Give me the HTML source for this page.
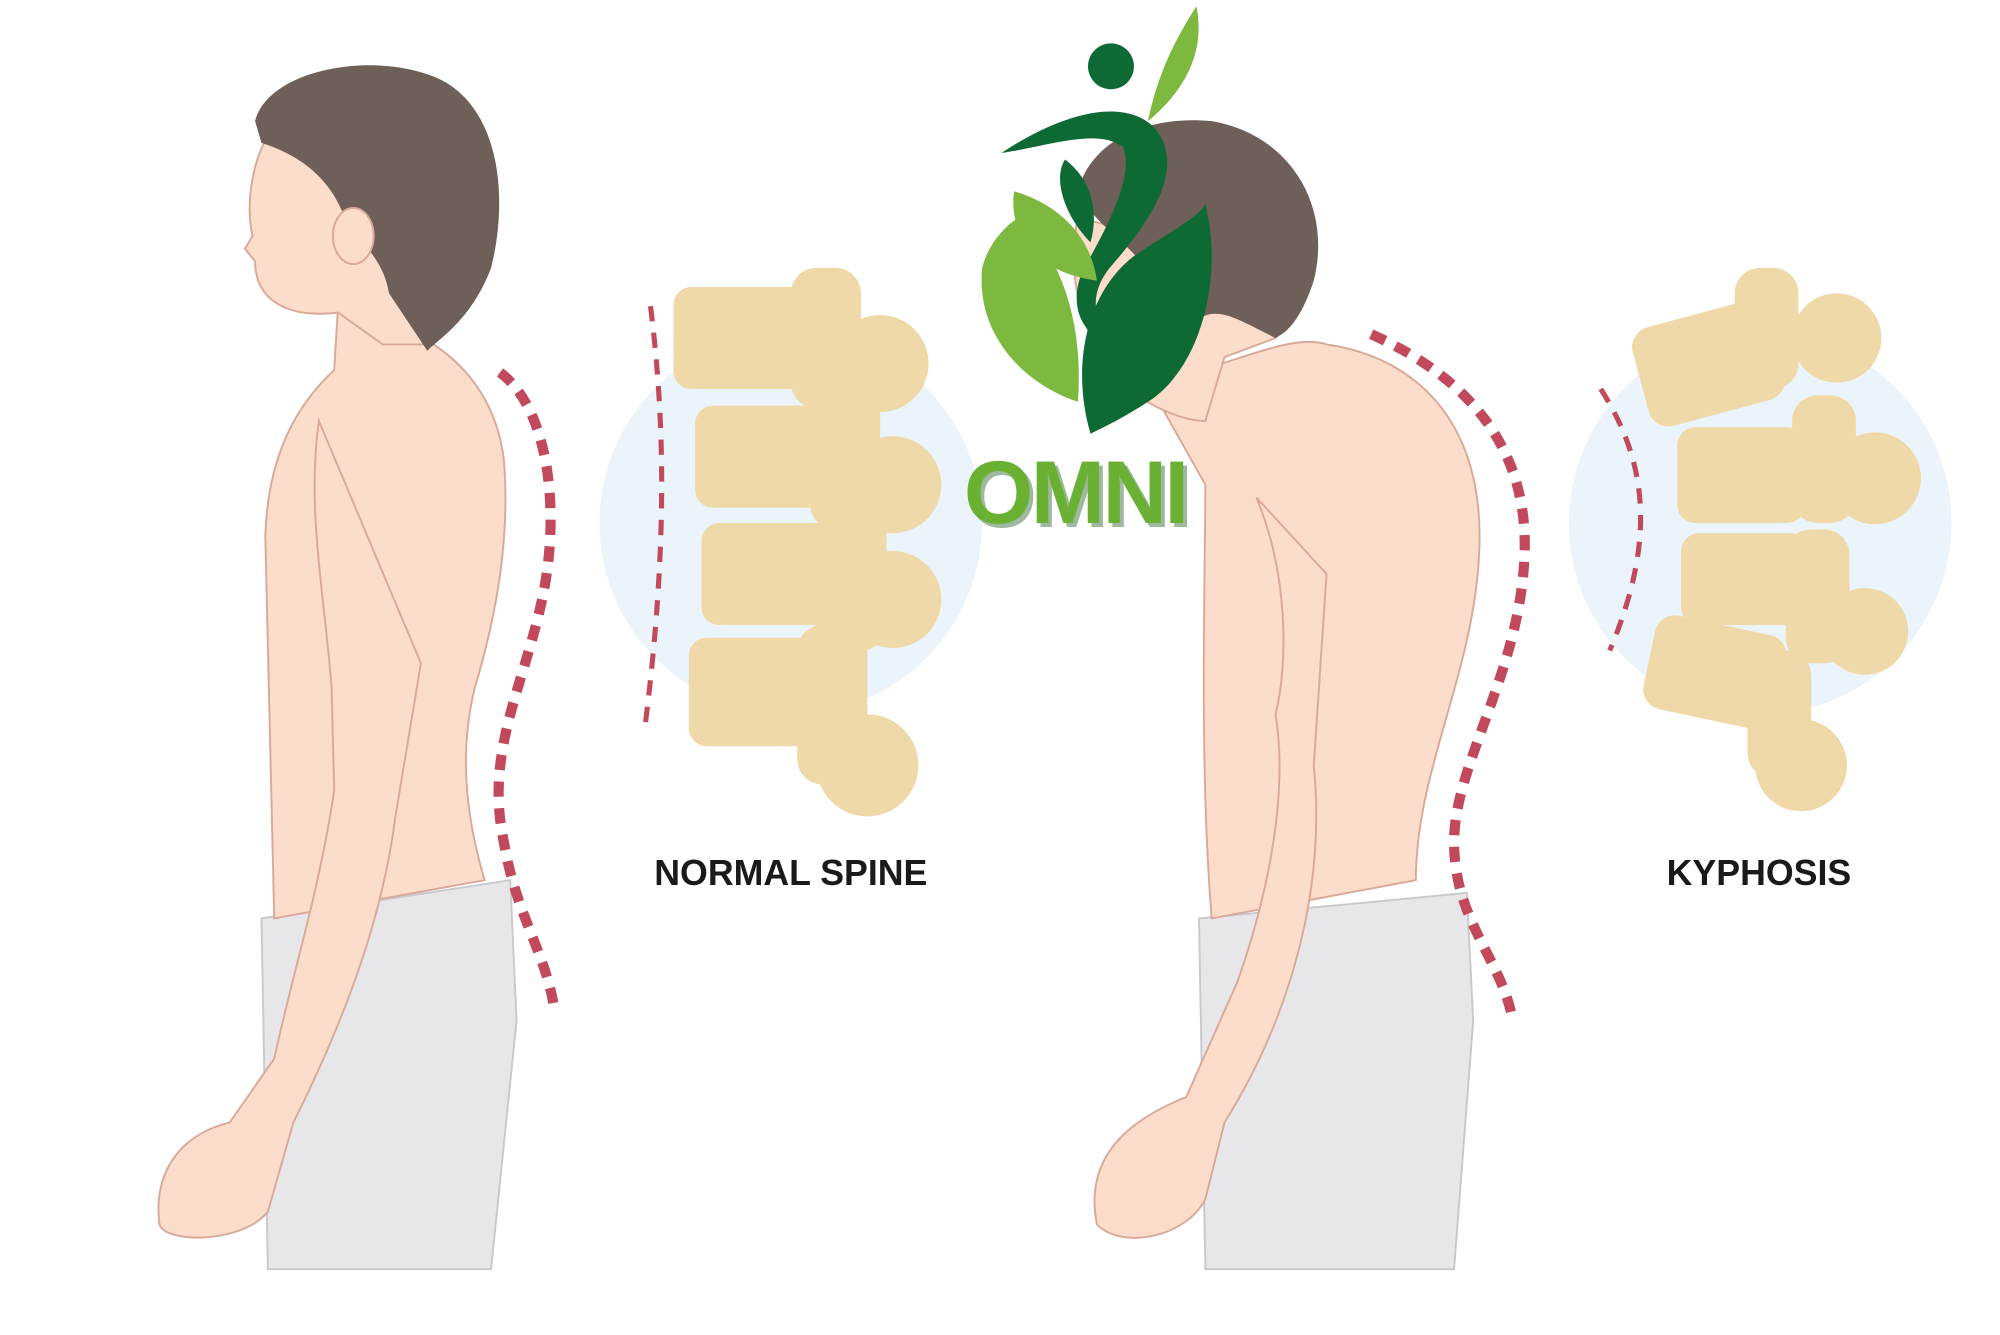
<!DOCTYPE html>
<html><head><meta charset="utf-8"><style>
html,body{margin:0;padding:0;background:#fff;}
svg{display:block;}
</style></head><body>
<svg width="2000" height="1335" viewBox="0 0 1568 1046.6" preserveAspectRatio="none" xmlns="http://www.w3.org/2000/svg">
<rect width="1568" height="1047" fill="#fff"/>
<circle cx="620" cy="410" r="150" fill="#eaf4fa"/>
<circle cx="1380" cy="410" r="150" fill="#eaf4fa"/>
<!-- LEFT PERSON -->
<path d="M205 720 L400 690 L405 800 L385 995 L210 995 Z" fill="#e7e7ea" stroke="#c9c9cc" stroke-width="1.5"/>
<path d="M265 240 L262 290 C230 320 210 360 208 420 L215 720 L380 690 C365 640 360 590 372 540 C390 480 400 420 395 360 C390 320 370 290 340 270 Z" fill="#fcdcca" stroke="#d9a898" stroke-width="1.5"/>
<path d="M250 330 C240 400 255 470 260 540 L262 620 C250 700 230 760 215 830 L180 880 C140 890 120 920 125 960 C130 975 190 975 210 950 L230 880 C270 800 300 720 310 640 L330 520 Z" fill="#fcdcca" stroke="#d9a898" stroke-width="1.5"/>
<path d="M215 100 C198 120 192 160 198 185 L192 195 L200 205 C200 235 225 250 265 245 L300 270 L340 270 L320 150 Z" fill="#fcdcca" stroke="#d9a898" stroke-width="1.5"/>
<path d="M200 95 C210 55 290 40 340 60 C390 80 400 150 385 210 C370 250 345 265 335 275 L305 230 C300 200 280 190 268 165 C255 135 230 120 205 112 Z" fill="#6e5f58"/>
<ellipse cx="277" cy="185" rx="16" ry="22" fill="#fcdcca" stroke="#d9a898" stroke-width="1.5"/>
<path d="M392 292 C430 320 440 400 425 470 C410 540 380 590 395 660 C405 720 430 750 435 795" fill="none" stroke="#c2495b" stroke-width="8" stroke-dasharray="12 9"/>
<path d="M510 240 C520 320 525 420 505 575" fill="none" stroke="#c2495b" stroke-width="4" stroke-dasharray="12 9"/>
<g fill="#f0d9a8">
<rect x="528" y="225" width="105" height="80" rx="14"/><circle cx="690" cy="285" r="38"/><rect x="620" y="210" width="55" height="110" rx="20"/>
<rect x="545" y="318" width="105" height="80" rx="14"/><circle cx="700" cy="380" r="38"/><rect x="635" y="305" width="55" height="110" rx="20"/>
<rect x="550" y="410" width="105" height="80" rx="14"/><circle cx="700" cy="470" r="38"/><rect x="640" y="395" width="55" height="115" rx="20"/>
<rect x="540" y="500" width="105" height="85" rx="14"/><circle cx="680" cy="600" r="40"/><rect x="625" y="490" width="55" height="125" rx="20"/>
</g>
<text x="620" y="694" text-anchor="middle" font-family="Liberation Sans, sans-serif" font-weight="bold" font-size="28" fill="#1a1a1a">NORMAL SPINE</text>
<!-- RIGHT PERSON -->
<path d="M940 720 L1150 700 L1155 800 L1140 995 L945 995 Z" fill="#e7e7ea" stroke="#c9c9cc" stroke-width="1.5"/>
<path d="M900 300 C960 290 1010 260 1040 270 C1110 280 1160 330 1160 420 C1160 520 1110 600 1110 690 L950 720 C940 600 945 450 945 380 Z" fill="#fcdcca" stroke="#d9a898" stroke-width="1.5"/>
<path d="M845 170 C835 220 850 270 880 300 C900 320 930 330 945 330 L960 280 L1000 265 C970 240 920 220 880 180 Z" fill="#fcdcca" stroke="#d9a898" stroke-width="1.5"/>
<path d="M985 390 C1010 450 1010 520 1000 560 C1010 620 995 700 970 770 L930 860 C880 880 850 910 860 960 C880 980 930 970 945 940 L960 880 C1010 800 1040 700 1030 600 L1040 450 Z" fill="#fcdcca" stroke="#d9a898" stroke-width="1.5"/>
<path d="M845 150 C855 110 900 90 950 95 C1010 105 1045 160 1030 220 C1020 250 1010 260 1000 265 C970 250 955 240 940 250 C920 235 900 210 885 195 C870 180 855 170 845 150 Z" fill="#6e5f58"/>
<path d="M1075 262 C1160 300 1200 360 1195 440 C1190 530 1140 600 1140 660 C1140 720 1175 750 1185 795" fill="none" stroke="#c2495b" stroke-width="8" stroke-dasharray="12 9"/>
<path d="M1255 305 C1290 360 1300 420 1262 510" fill="none" stroke="#c2495b" stroke-width="4" stroke-dasharray="12 9"/>
<g fill="#f0d9a8">
<rect x="1285" y="245" width="110" height="80" rx="16" transform="rotate(-15 1340 287)"/><circle cx="1440" cy="265" r="35"/><rect x="1360" y="210" width="50" height="95" rx="20"/>
<rect x="1315" y="335" width="100" height="75" rx="14"/><circle cx="1470" cy="375" r="36"/><rect x="1405" y="310" width="50" height="100" rx="20"/>
<rect x="1318" y="418" width="100" height="72" rx="14"/><circle cx="1462" cy="495" r="34"/><rect x="1400" y="415" width="50" height="105" rx="20"/>
<rect x="1292" y="490" width="105" height="75" rx="16" transform="rotate(12 1347 527)"/><circle cx="1412" cy="600" r="36"/><rect x="1370" y="510" width="50" height="100" rx="20"/>
</g>
<text x="1379" y="694" text-anchor="middle" font-family="Liberation Sans, sans-serif" font-weight="bold" font-size="28" fill="#1a1a1a">KYPHOSIS</text>
<!-- LOGO -->
<circle cx="871" cy="52" r="18" fill="#0d6a35"/>
<path d="M938 5 C945 40 930 70 900 95 C905 70 915 40 938 5 Z" fill="#7db83f"/>
<path d="M785 120 C830 90 880 75 905 100 C930 130 905 170 870 210 C850 235 860 260 880 270 C850 270 835 240 850 210 C870 175 890 135 880 115 C860 100 820 115 785 120 Z" fill="#0d6a35"/>
<path d="M855 340 C840 290 850 230 890 200 C920 180 940 170 945 160 C960 220 940 290 900 315 C880 328 865 335 855 340 Z" fill="#0d6a35"/>
<path d="M845 315 C800 300 765 260 770 210 C775 190 790 175 800 170 C830 200 850 250 845 315 Z" fill="#7db83f"/>
<path d="M860 220 C820 215 790 190 795 150 C830 160 855 185 860 220 Z" fill="#7db83f"/>
<path d="M855 190 C835 170 825 140 835 125 C855 140 862 165 855 190 Z" fill="#0d6a35"/>
<text x="843" y="410" text-anchor="middle" font-family="Liberation Sans, sans-serif" font-weight="bold" font-size="70" fill="#9fb8a0" letter-spacing="-2" transform="translate(3,3)">OMNI</text>
<text x="843" y="410" text-anchor="middle" font-family="Liberation Sans, sans-serif" font-weight="bold" font-size="70" fill="#6ab033" letter-spacing="-2">OMNI</text>
</svg>
</body></html>
